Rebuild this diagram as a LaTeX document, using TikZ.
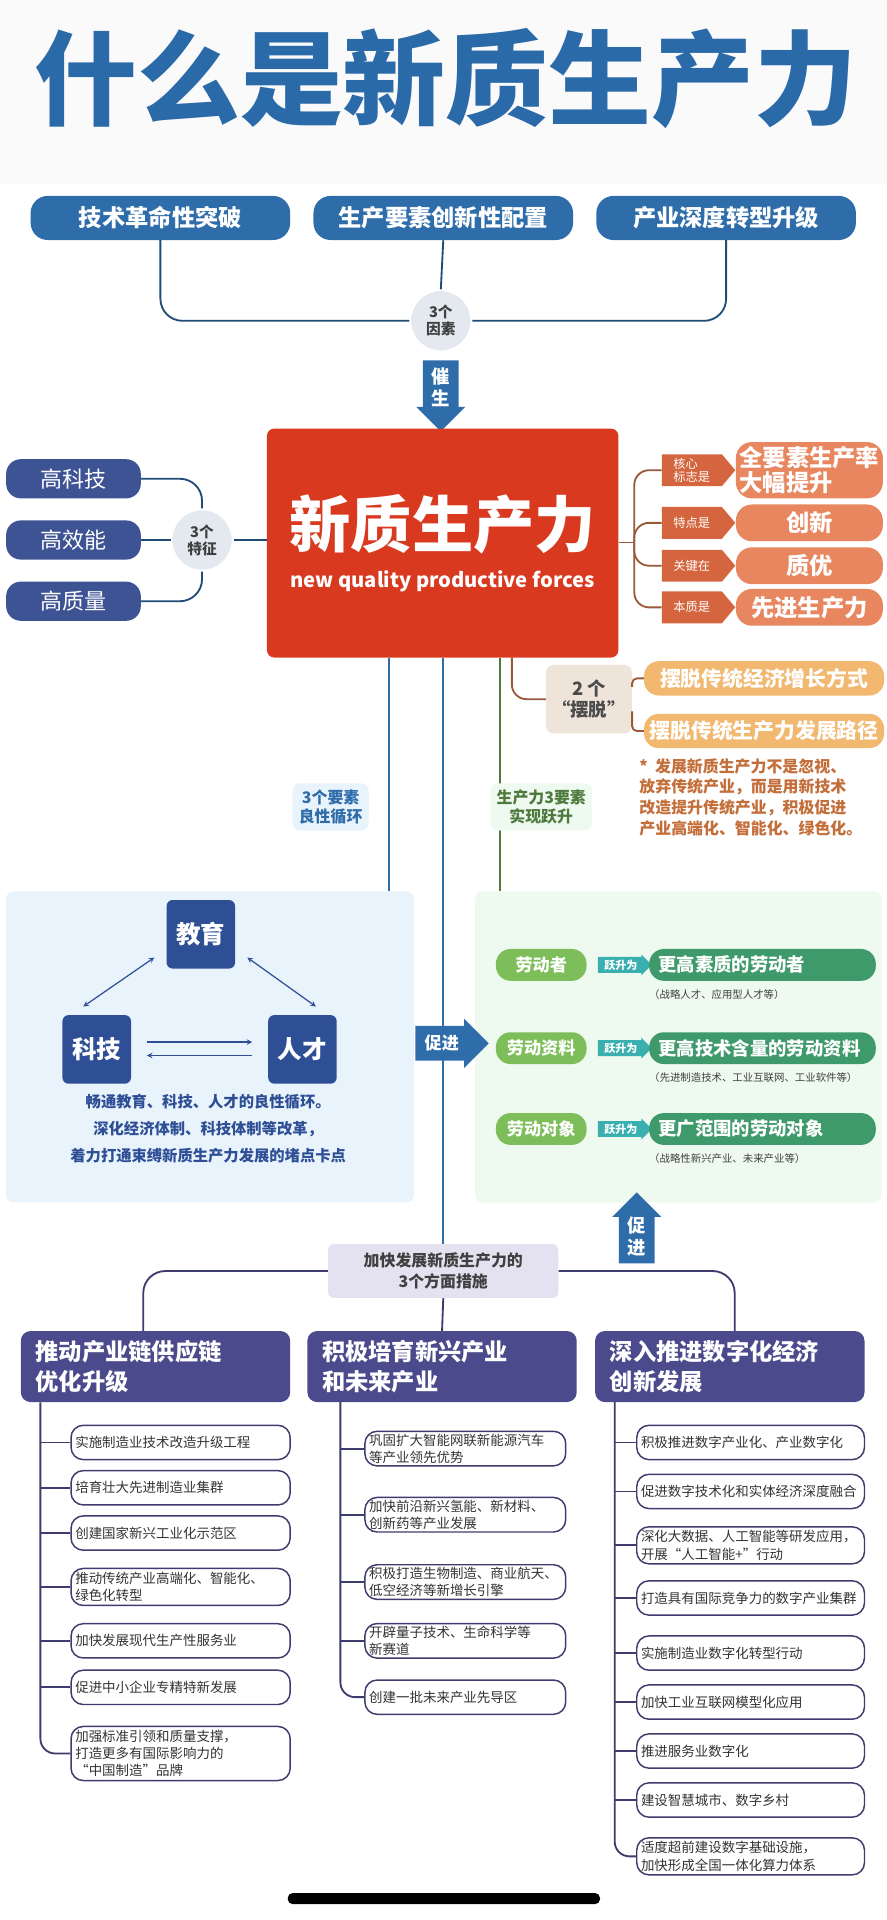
\documentclass[tikz,border=0pt]{standalone}
\usepackage{fontspec}
\setmainfont{Noto Sans CJK SC}
\XeTeXlinebreaklocale "zh"
\XeTeXlinebreakskip=0pt plus 1pt
\usetikzlibrary{shapes.symbols,shapes.arrows}
\newcommand\fsz[2]{\fontsize{#1}{#2}\selectfont}
\definecolor{titleB}{HTML}{2A6AA8}
\definecolor{pillB}{HTML}{2F6DAA}
\definecolor{mainR}{HTML}{D93A1F}
\definecolor{leftP}{HTML}{3E5394}
\definecolor{circF}{HTML}{E4E9F0}
\definecolor{arrO}{HTML}{D5653F}
\definecolor{pillO}{HTML}{E8875F}
\definecolor{pillLO}{HTML}{F2B870}
\definecolor{beige}{HTML}{EEE4DA}
\definecolor{noteC}{HTML}{C46E3A}
\definecolor{brownL}{HTML}{9A5A3A}
\definecolor{panB}{HTML}{E9F3FB}
\definecolor{panG}{HTML}{EEF9EF}
\definecolor{nodeB}{HTML}{2E4F96}
\definecolor{gLight}{HTML}{7DBE5A}
\definecolor{teal}{HTML}{3AAFB0}
\definecolor{gDark}{HTML}{3E9A6B}
\definecolor{gLine}{HTML}{4E7A3E}
\definecolor{lav}{HTML}{E4E2F0}
\definecolor{purp}{HTML}{4B4A8C}
\definecolor{itemL}{HTML}{3E3C6E}
\tikzset{
  pill/.style={rounded corners=14pt, fill=pillB, text=white, font=\fsz{19}{22}\bfseries, minimum height=36pt, minimum width=212pt, inner sep=0pt},
  lpill/.style={rounded corners=12pt, fill=leftP, text=white, font=\fsz{18}{22}, minimum height=32pt, minimum width=110pt, inner sep=0pt},
  circ/.style={circle, fill=circF, draw=white, line width=1.5pt, font=\fsz{12}{14}\bfseries, text=black!75, minimum size=50pt, inner sep=0pt, align=center},
  oarr/.style={signal, signal to=east, signal pointer angle=100, fill=arrO, text=white, font=\fsz{10}{11}, minimum height=26pt, minimum width=60pt, inner sep=1pt, align=left},
  opill/.style={rounded corners=13pt, fill=pillO, text=white, font=\fsz{19}{21}\bfseries, minimum width=120pt, inner sep=2pt, align=left},
  lopill/.style={rounded corners=12pt, fill=pillLO, text=white, font=\fsz{17}{20}\bfseries, minimum width=196pt, minimum height=28pt, inner sep=0pt},
  bline/.style={line width=1.5pt, color=brownL, rounded corners=12pt},
  tline/.style={line width=1.5pt, color=pillB!70!black, rounded corners=18pt},
  lbl/.style={rounded corners=6pt, font=\fsz{13}{16}\bfseries, align=center, inner sep=5pt},
  dnode/.style={rounded corners=5pt, fill=nodeB, text=white, font=\fsz{20}{22}\bfseries, minimum size=56pt, inner sep=0pt},
  gp/.style={rounded corners=12pt, fill=gLight, text=white, font=\fsz{14}{16}\bfseries, minimum height=26pt, minimum width=74pt, inner sep=0pt},
  ta/.style={single arrow, single arrow head extend=2pt, fill=teal, text=white, font=\fsz{9}{10}\bfseries, minimum height=44pt, inner sep=2pt},
  gd/.style={rounded corners=12pt, fill=gDark, text=white, font=\fsz{15}{17}\bfseries, minimum height=26pt, minimum width=185pt, inner sep=0pt, anchor=west, text width=170pt, align=left},
  gsub/.style={font=\fsz{8.5}{10}, text=black!75, anchor=west, inner sep=0pt},
  hdr/.style={rounded corners=8pt, fill=purp, text=white, font=\fsz{19}{24}\bfseries, minimum height=58pt, minimum width=220pt, text width=196pt, align=left, inner sep=0pt},
  item/.style={rounded corners=10pt, draw=itemL, line width=1.2pt, fill=white, font=\fsz{11}{14}, text=black!80, align=left, inner sep=3pt, minimum height=28pt},
  spine/.style={line width=1.5pt, color=itemL, rounded corners=12pt},
  dar/.style={<->, >=stealth, line width=1pt, nodeB},
}
\begin{document}
\begin{tikzpicture}[x=1pt,y=-1pt]
\useasboundingbox (0,0) rectangle (724,1568);
\fill[white] (0,0) rectangle (724,1568);
\fill[gray!4] (0,0) rectangle (724,150);
% title
\node[text=titleB, font=\fsz{84}{88}\bfseries] (title) at (364,64) {什么是新质生产力};
% top pills
\node[pill] (t1) at (131,178) {技术革命性突破};
\node[pill] (t2) at (362,178) {生产要素创新性配置};
\node[pill] (t3) at (593,178) {产业深度转型升级};
\node[circ] (f3) at (360,262) {3个\\因素};
\draw[tline] (t1.south) |- (f3.west);
\draw[tline] (t3.south) |- (f3.east);
\draw[tline] (t2.south) -- (f3.north);
\node[single arrow, shape border rotate=270, fill=pillB, text=white, font=\fsz{15}{18}\bfseries, minimum width=40pt, single arrow head extend=4pt, minimum height=58pt, inner sep=3pt, align=center] (cs) at (360,316) {催\\生};
% main box
\node[rounded corners=6pt, fill=mainR, minimum width=287pt, minimum height=187pt, inner sep=0pt] (main) at (361.5,443.5) {};
\node[text=white, font=\fsz{50}{54}\bfseries] (mt) at (361.5,428) {新质生产力};
\node[text=white, font=\fsz{16.5}{18}\bfseries] (me) at (361.5,475) {new quality productive forces};
% left features
\node[lpill] (p1) at (60,391) {高科技};
\node[lpill] (p2) at (60,441) {高效能};
\node[lpill] (p3) at (60,491) {高质量};
\node[circ] (f2) at (165,441) {3个\\特征};
\draw[tline] (p1.east) -| (f2.north);
\draw[tline] (p3.east) -| (f2.south);
\draw[tline] (p2.east) -- (f2.west);
\draw[tline] (f2.east) -- (main.west |- f2.east);
% right attributes
\node[opill, minimum height=46pt] (o1) at (661,384) {全要素生产率\\大幅提升};
\node[opill, minimum height=30pt, align=center] (o2) at (661,427) {创新};
\node[opill, minimum height=30pt, align=center] (o3) at (661,462) {质优};
\node[opill, minimum height=30pt, align=center] (o4) at (661,496) {先进生产力};
\node[oarr] (a1) at (565,384) {核心\\标志是};
\node[oarr] (a2) at (565,427) {特点是};
\node[oarr] (a3) at (565,462) {关键在};
\node[oarr] (a4) at (565,496) {本质是};
\coordinate (br) at (518,443);
\draw[bline] (main.east |- br) -- (br);
\draw[bline] (br) |- (a1.west);
\draw[bline] (br) |- (a4.west);
\draw[bline] (br) |- (a2.west);
\draw[bline] (br) |- (a3.west);
% two 摆脱
\node[rounded corners=6pt, fill=beige, font=\fsz{15}{17}\bfseries, text=black!70, align=center, minimum width=70pt, minimum height=56pt, inner sep=0pt] (bt) at (481,571) {2 个\\“摆脱”};
\draw[bline] (418,537) |- (bt.west);
\node[lopill] (l1) at (624,554) {摆脱传统经济增长方式};
\node[lopill] (l2) at (624,597) {摆脱传统生产力发展路径};
\draw[bline, rounded corners=4pt] ([yshift=10pt]bt.east) |- (l1.west);
\draw[bline, rounded corners=4pt] ([yshift=-10pt]bt.east) |- (l2.west);
\node[anchor=north west, text=noteC, font=\fsz{13}{17}\bfseries, align=left, inner sep=0pt] (note) at (522,619) {*\ \ 发展新质生产力不是忽视、\\放弃传统产业，而是用新技术\\改造提升传统产业，积极促进\\产业高端化、智能化、绿色化。};
% panels
\fill[panB, rounded corners=6pt] (5,728) rectangle (338,982);
\fill[panG, rounded corners=6pt] (388,728) rectangle (720,982);
% vertical lines
\draw[line width=1.5pt, pillB] (318,537) -- (318,728);
\draw[line width=1.5pt, gLine] (408,537) -- (408,728);
\draw[line width=1.5pt, pillB] (362,537) -- (362,1017);
\node[lbl, fill=panB, text=pillB] (lb1) at (270,659) {3个要素\\良性循环};
\node[lbl, fill=panG, text=gLine] (lb2) at (442,659) {生产力3要素\\实现跃升};
% left panel
\node[dnode] (edu) at (164,763) {教育};
\node[dnode] (tech) at (79,857) {科技};
\node[dnode] (tal) at (247,857) {人才};
\draw[dar] (126,782) -- (68,822);
\draw[dar] (202,782) -- (258,822);
\draw[->, >=stealth, line width=1pt, nodeB] (120,851) -- (206,851);
\draw[->, >=stealth, line width=1pt, nodeB] (206,862) -- (120,862);
\node[text=nodeB, font=\fsz{12.5}{22}\bfseries, align=center] (ltxt) at (170,922) {畅通教育、科技、人才的良性循环。\\深化经济体制、科技体制等改革，\\着力打通束缚新质生产力发展的堵点卡点};
% promote arrow
\node[single arrow, fill=pillB, text=white, font=\fsz{14}{16}\bfseries, minimum width=40pt, single arrow head extend=4pt, minimum height=60pt, inner sep=3pt] (cj) at (362,852) {促进\,};
% right panel rows
\foreach \y/\a/\b/\c/\n in {788/劳动者/更高素质的劳动者/（战略人才、应用型人才等）/1, 856/劳动资料/更高技术含量的劳动资料/（先进制造技术、工业互联网、工业软件等）/2, 922/劳动对象/更广范围的劳动对象/（战略性新兴产业、未来产业等）/3}{
  \node[gp] (g\n) at (442,\y) {\a};
  \node[ta] (s\n) at (507,\y) {跃升为};
  \node[gd] (d\n) at (530,\y) {\b};
  \node[gsub] (u\n) at (530,\y+24) {\c};
}
% up arrow
\node[single arrow, shape border rotate=90, fill=pillB, text=white, font=\fsz{15}{18}\bfseries, minimum width=40pt, single arrow head extend=4pt, minimum height=58pt, inner sep=3pt, align=center] (cu) at (520,1010) {促\\进};
% bottom center node
\node[rounded corners=5pt, fill=lav, text=black!75, font=\fsz{13}{17}\bfseries, align=center, minimum width=188pt, minimum height=44pt, inner sep=0pt] (c) at (362,1038) {加快发展新质生产力的\\3个方面措施};
\node[hdr] (h1) at (127,1116) {推动产业链供应链\\优化升级};
\node[hdr] (h2) at (361,1116) {积极培育新兴产业\\和未来产业};
\node[hdr] (h3) at (596,1116) {深入推进数字化经济\\创新发展};
\draw[spine, rounded corners=18pt] (c.west) -| ([xshift=-10pt]h1.north);
\draw[spine, rounded corners=18pt] (c.east) -| ([xshift=4pt]h3.north);
\draw[spine] (c.south) -- (h2.north);
% left items
\begin{scope}[every node/.style={item, text width=172pt, minimum width=179pt}]
\node (i1) at (147.5,1178) {实施制造业技术改造升级工程};
\node (i2) at (147.5,1215) {培育壮大先进制造业集群};
\node (i3) at (147.5,1252) {创建国家新兴工业化示范区};
\node (i4) at (147.5,1296) {推动传统产业高端化、智能化、\\绿色化转型};
\node (i5) at (147.5,1340) {加快发展现代生产性服务业};
\node (i6) at (147.5,1378) {促进中小企业专精特新发展};
\node (i7) at (147.5,1432) {加强标准引领和质量支撑，\\打造更多有国际影响力的\\“中国制造”品牌};
\end{scope}
\draw[spine] ([xshift=-94pt]h1.south) |- (i7.west);
\foreach \k in {1,...,6}{\draw[spine] (33,0 |- i\k.west) -- (i\k.west);}
% middle items
\begin{scope}[every node/.style={item, text width=157pt, minimum width=164pt, inner sep=2pt}]
\node (m1) at (380,1183) {巩固扩大智能网联新能源汽车\\等产业领先优势};
\node (m2) at (380,1237) {加快前沿新兴氢能、新材料、\\创新药等产业发展};
\node (m3) at (380,1292) {积极打造生物制造、商业航天、\\低空经济等新增长引擎};
\node (m4) at (380,1340) {开辟量子技术、生命科学等\\新赛道};
\node (m5) at (380,1386) {创建一批未来产业先导区};
\end{scope}
\draw[spine] (278,1145) |- (m5.west);
\foreach \k in {1,...,4}{\draw[spine] (278,0 |- m\k.west) -- (m\k.west);}
% right items
\begin{scope}[every node/.style={item, text width=179pt, minimum width=186pt}]
\node (r1) at (613,1178) {积极推进数字产业化、产业数字化};
\node (r2) at (613,1218) {促进数字技术化和实体经济深度融合};
\node (r3) at (613,1262) {深化大数据、人工智能等研发应用，\\开展“人工智能+”行动};
\node (r4) at (613,1305) {打造具有国际竞争力的数字产业集群};
\node (r5) at (613,1350) {实施制造业数字化转型行动};
\node (r6) at (613,1390) {加快工业互联网模型化应用};
\node (r7) at (613,1430) {推进服务业数字化};
\node (r8) at (613,1470) {建设智慧城市、数字乡村};
\node (r9) at (613,1516) {适度超前建设数字基础设施，\\加快形成全国一体化算力体系};
\end{scope}
\draw[spine] (502,1145) |- (r9.west);
\foreach \k in {1,...,8}{\draw[spine] (502,0 |- r\k.west) -- (r\k.west);}
% home bar
\fill[black, rounded corners=4pt] (235,1546) rectangle (490,1555);
\end{tikzpicture}
\end{document}
